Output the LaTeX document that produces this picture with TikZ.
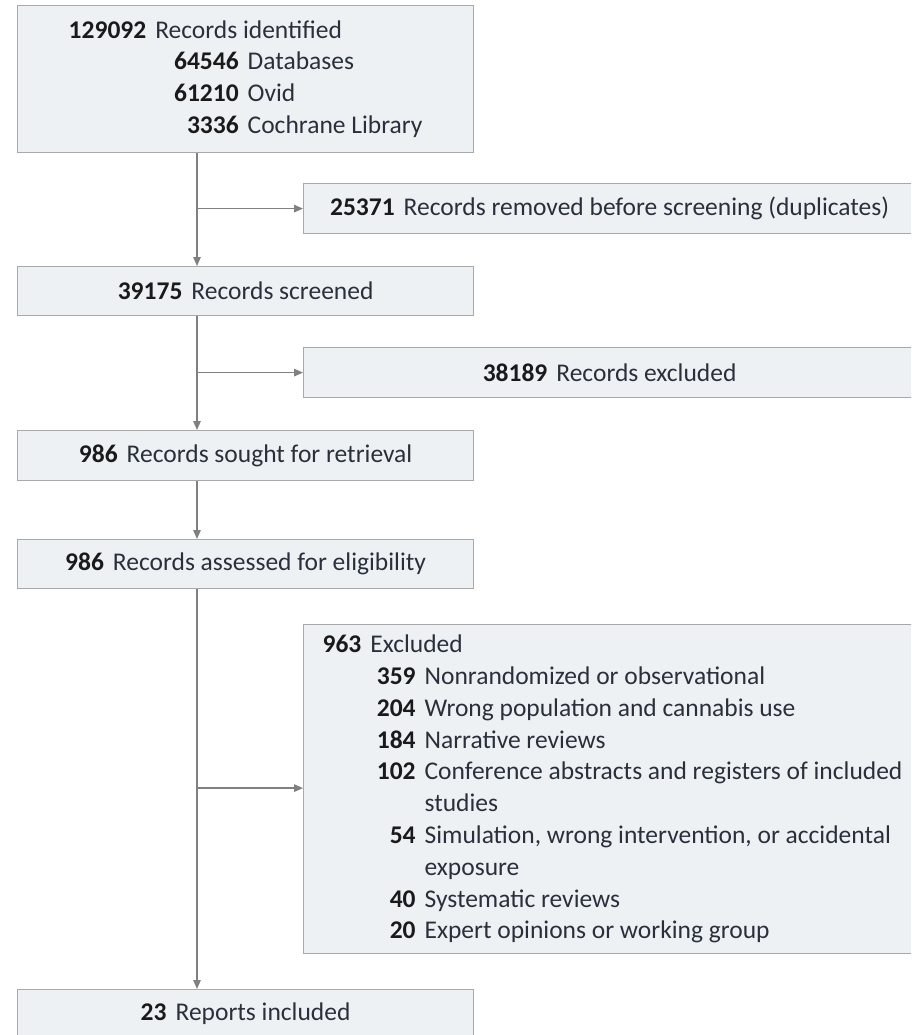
\documentclass[tikz,border=0pt]{standalone}
\usepackage{fontspec}
\setmainfont{Carlito}
\usetikzlibrary{arrows.meta,calc}
\definecolor{boxfill}{HTML}{EEF1F4}
\definecolor{boxline}{HTML}{A9A9A9}
\definecolor{arrline}{HTML}{808080}
\definecolor{numcol}{HTML}{1A1A1A}
\definecolor{txtcol}{HTML}{2A303B}
\newcommand{\nm}[1]{{\color{numcol}\bfseries #1}}
\newcommand{\subln}[3]{\makebox[#1pt][r]{\nm{#2}}\hspace{9pt}#3}
\begin{document}
\begin{tikzpicture}[x=1pt,y=-1pt,
  flowbox/.style={draw=boxline, line width=1.2pt, fill=boxfill, rectangle, inner sep=0pt,
    anchor=north west, text=txtcol, font=\fontsize{25.5}{31.8}\selectfont, align=center},
  leftbox/.style={flowbox, minimum width=456pt},
  rightbox/.style={flowbox, minimum width=612pt},
  arr/.style={draw=arrline, line width=1.3pt, -{Triangle[length=9pt,width=7.5pt]}}]
\useasboundingbox (0,0) rectangle (911,1035);
\clip (0,0) rectangle (911,1035);
\fill[white] (0,0) rectangle (911,1035);

\node[leftbox, minimum height=147pt, align=left] (b1) at (17,5)
  {\nm{129092}\hspace{9pt}Records identified\\
   \subln{170}{64546}{Databases}\\
   \subln{170}{61210}{Ovid}\\
   \subln{170}{3336}{Cochrane Library}};
\node[rightbox, minimum height=50pt] (b2) at (303,183)
  {\nm{25371}\hspace{9pt}Records removed before screening (duplicates)};
\node[leftbox, minimum height=49pt] (b3) at (17,266)
  {\nm{39175}\hspace{9pt}Records screened};
\node[rightbox, minimum height=50pt] (b4) at (303,347)
  {\nm{38189}\hspace{9pt}Records excluded};
\node[leftbox, minimum height=50pt] (b5) at (17,430)
  {\nm{986}\hspace{9pt}Records sought for retrieval};
\node[leftbox, minimum height=49pt] (b6) at (17,539)
  {\nm{986}\hspace{9pt}Records assessed for eligibility};
\node[rightbox, minimum height=329pt, align=flush left, text width=593pt, inner xsep=19pt,
      minimum width=612pt] (b7) at (303,624)
  {\nm{963}\hspace{9pt}Excluded\\
   \subln{93}{359}{Nonrandomized or observational}\\
   \subln{93}{204}{Wrong population and cannabis use}\\
   \subln{93}{184}{Narrative reviews}\\
   \subln{93}{102}{Conference abstracts and registers of included}\\
   \subln{93}{}{studies}\\
   \subln{93}{54}{Simulation, wrong intervention, or accidental}\\
   \subln{93}{}{exposure}\\
   \subln{93}{40}{Systematic reviews}\\
   \subln{93}{20}{Expert opinions or working group}};
\node[leftbox, minimum height=49pt] (b8) at (17,989)
  {\nm{23}\hspace{9pt}Reports included};

\coordinate (t1) at ([xshift=180pt]b1.south west);
\coordinate (t3) at ([xshift=180pt]b3.south west);
\coordinate (t5) at ([xshift=180pt]b5.south west);
\coordinate (t6) at ([xshift=180pt]b6.south west);

\draw[arr] (t1) -- (t1 |- b3.north);
\draw[arr] (t1 |- b2.west) -- (b2.west);
\draw[arr] (t3) -- (t3 |- b5.north);
\draw[arr] (t3 |- b4.west) -- (b4.west);
\draw[arr] (t5) -- (t5 |- b6.north);
\draw[arr] (t6) -- (t6 |- b8.north);
\draw[arr] ([yshift=1pt]t6 |- b7.west) -- ([yshift=1pt]b7.west);
\end{tikzpicture}
\end{document}
